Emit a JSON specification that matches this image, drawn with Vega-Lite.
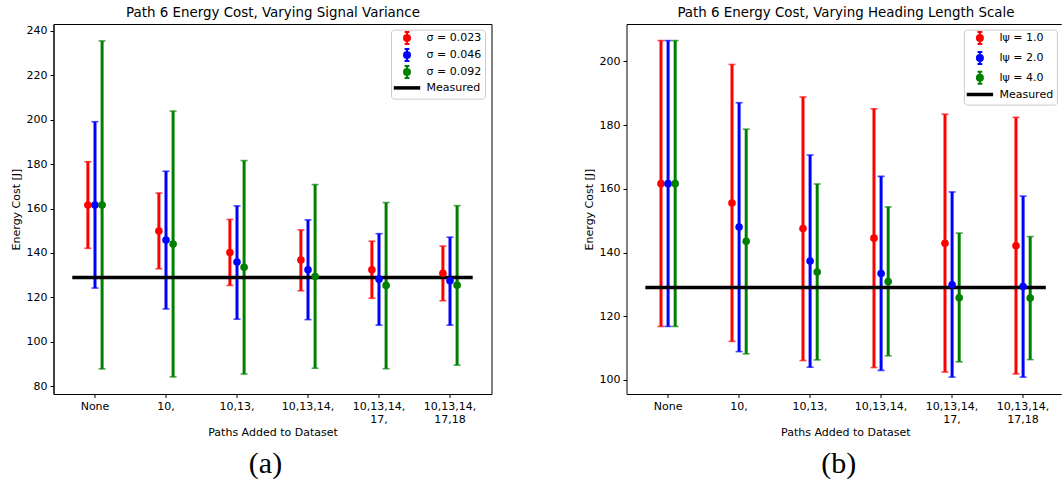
{
  "$schema": "https://vega.github.io/schema/vega-lite/v6.json",
  "background": "white",
  "padding": {"left": 9.5, "top": 4, "right": 0, "bottom": 0},
  "datasets": {
    "variance": [
      {"paths": "None", "series": "σ = 0.023", "mean": 161.6, "lo": 142.1, "hi": 181.1},
      {"paths": "None", "series": "σ = 0.046", "mean": 161.6, "lo": 124.2, "hi": 199.1},
      {"paths": "None", "series": "σ = 0.092", "mean": 161.6, "lo": 87.8, "hi": 235.5},
      {"paths": "10,", "series": "σ = 0.023", "mean": 149.9, "lo": 132.9, "hi": 167.0},
      {"paths": "10,", "series": "σ = 0.046", "mean": 145.8, "lo": 114.8, "hi": 176.8},
      {"paths": "10,", "series": "σ = 0.092", "mean": 144.0, "lo": 84.2, "hi": 203.9},
      {"paths": "10,13,", "series": "σ = 0.023", "mean": 140.2, "lo": 125.4, "hi": 155.1},
      {"paths": "10,13,", "series": "σ = 0.046", "mean": 135.9, "lo": 110.2, "hi": 161.2},
      {"paths": "10,13,", "series": "σ = 0.092", "mean": 133.6, "lo": 85.5, "hi": 181.6},
      {"paths": "10,13,14,", "series": "σ = 0.023", "mean": 136.8, "lo": 123.0, "hi": 150.4},
      {"paths": "10,13,14,", "series": "σ = 0.046", "mean": 132.4, "lo": 110.0, "hi": 154.9},
      {"paths": "10,13,14,", "series": "σ = 0.092", "mean": 129.4, "lo": 88.1, "hi": 170.8},
      {"paths": "10,13,14,\n17,", "series": "σ = 0.023", "mean": 132.4, "lo": 119.6, "hi": 145.3},
      {"paths": "10,13,14,\n17,", "series": "σ = 0.046", "mean": 128.2, "lo": 107.5, "hi": 148.7},
      {"paths": "10,13,14,\n17,", "series": "σ = 0.092", "mean": 125.4, "lo": 87.9, "hi": 162.7},
      {"paths": "10,13,14,\n17,18", "series": "σ = 0.023", "mean": 130.9, "lo": 118.5, "hi": 143.1},
      {"paths": "10,13,14,\n17,18", "series": "σ = 0.046", "mean": 127.5, "lo": 107.5, "hi": 147.1},
      {"paths": "10,13,14,\n17,18", "series": "σ = 0.092", "mean": 125.5, "lo": 89.5, "hi": 161.3}
    ],
    "heading": [
      {"paths": "None", "series": "lψ = 1.0", "mean": 161.6, "lo": 116.8, "hi": 206.5},
      {"paths": "None", "series": "lψ = 2.0", "mean": 161.6, "lo": 116.8, "hi": 206.5},
      {"paths": "None", "series": "lψ = 4.0", "mean": 161.6, "lo": 116.8, "hi": 206.5},
      {"paths": "10,", "series": "lψ = 1.0", "mean": 155.5, "lo": 112.1, "hi": 199.0},
      {"paths": "10,", "series": "lψ = 2.0", "mean": 148.0, "lo": 108.9, "hi": 187.0},
      {"paths": "10,", "series": "lψ = 4.0", "mean": 143.5, "lo": 108.2, "hi": 178.7},
      {"paths": "10,13,", "series": "lψ = 1.0", "mean": 147.5, "lo": 106.1, "hi": 188.8},
      {"paths": "10,13,", "series": "lψ = 2.0", "mean": 137.3, "lo": 104.0, "hi": 170.6},
      {"paths": "10,13,", "series": "lψ = 4.0", "mean": 133.9, "lo": 106.3, "hi": 161.5},
      {"paths": "10,13,14,", "series": "lψ = 1.0", "mean": 144.5, "lo": 103.9, "hi": 185.1},
      {"paths": "10,13,14,", "series": "lψ = 2.0", "mean": 133.4, "lo": 103.0, "hi": 163.9},
      {"paths": "10,13,14,", "series": "lψ = 4.0", "mean": 130.9, "lo": 107.6, "hi": 154.3},
      {"paths": "10,13,14,\n17,", "series": "lψ = 1.0", "mean": 142.9, "lo": 102.5, "hi": 183.4},
      {"paths": "10,13,14,\n17,", "series": "lψ = 2.0", "mean": 129.9, "lo": 100.9, "hi": 159.0},
      {"paths": "10,13,14,\n17,", "series": "lψ = 4.0", "mean": 125.8, "lo": 105.7, "hi": 146.1},
      {"paths": "10,13,14,\n17,18", "series": "lψ = 1.0", "mean": 142.1, "lo": 101.9, "hi": 182.4},
      {"paths": "10,13,14,\n17,18", "series": "lψ = 2.0", "mean": 129.3, "lo": 100.9, "hi": 157.7},
      {"paths": "10,13,14,\n17,18", "series": "lψ = 4.0", "mean": 125.7, "lo": 106.4, "hi": 145.0}
    ],
    "measured": [
      {"series": "Measured", "energy": 129.0, "from": "None", "to": "10,13,14,\n17,18"}
    ]
  },
  "hconcat": [
    {
      "width": 438,
      "height": 370,
      "title": {"text": "(a)", "dx": -7},
      "data": {"name": "variance"},
      "layer": [
        {
          "mark": {"type": "rule", "strokeWidth": 3},
          "encoding": {
            "x": {
              "field": "paths", "type": "ordinal",
              "scale": {"type": "band", "domain": ["None", "10,", "10,13,", "10,13,14,", "10,13,14,\n17,", "10,13,14,\n17,18"], "paddingInner": 0, "paddingOuter": 0.0845},
              "axis": {"title": "Paths Added to Dataset", "labelAngle": 0, "labelExpr": "split(datum.label, '\\n')", "labelLineHeight": 13, "titlePadding": 2}
            },
            "xOffset": {"field": "series", "type": "nominal", "scale": {"type": "point", "domain": ["σ = 0.023", "σ = 0.046", "σ = 0.092"], "range": [28.4, 42.6], "padding": 0}},
            "y": {
              "field": "lo", "type": "quantitative",
              "scale": {"domain": [76.5, 243.1], "nice": false, "zero": false},
              "axis": {"title": "Energy Cost [J]", "values": [80, 100, 120, 140, 160, 180, 200, 220, 240]}
            },
            "y2": {"field": "hi"},
            "color": {
              "field": "series", "type": "nominal",
              "scale": {"domain": ["σ = 0.023", "σ = 0.046", "σ = 0.092", "Measured"], "range": ["#ff0000", "#0000ff", "#008000", "#000000"]},
              "legend": {
                "orient": "none", "legendX": 337.5, "legendY": 5.6,
                "title": null,
                "symbolSize": 144, "symbolOffset": 7.5, "labelOffset": 14,
                "padding": 3, "rowPadding": -4.1,
                "strokeColor": "#cccccc", "fillColor": "rgba(255,255,255,0.8)", "cornerRadius": 3,
                "encode": {"symbols": {"update": {
                  "shape": {"signal": "datum.value === 'Measured' ? 'M-2.2,0H2.2' : 'M0,-1V1M-0.4,-1H0.4M-0.4,1H0.4M-0.5,0A0.5,0.5,0,1,1,0.5,0A0.5,0.5,0,1,1,-0.5,0Z'"},
                  "stroke": {"signal": "['#ff0000','#0000ff','#008000','#000000'][datum.index]"},
                  "fill": {"signal": "datum.value === 'Measured' ? 'transparent' : ['#ff0000','#0000ff','#008000'][datum.index]"},
                  "strokeWidth": {"signal": "datum.value === 'Measured' ? 3.5 : 2"},
                  "opacity": {"value": 1}
                }}}
              }
            }
          }
        },
        {
          "mark": {"type": "tick", "orient": "horizontal", "size": 7, "thickness": 1.6},
          "encoding": {
            "x": {"field": "paths", "type": "ordinal", "axis": null},
            "xOffset": {"field": "series", "type": "nominal"},
            "y": {"field": "lo", "type": "quantitative", "title": "Energy Cost [J]"},
            "color": {"field": "series", "type": "nominal"}
          }
        },
        {
          "mark": {"type": "tick", "orient": "horizontal", "size": 7, "thickness": 1.6},
          "encoding": {
            "x": {"field": "paths", "type": "ordinal", "axis": null},
            "xOffset": {"field": "series", "type": "nominal"},
            "y": {"field": "hi", "type": "quantitative", "title": "Energy Cost [J]"},
            "color": {"field": "series", "type": "nominal"}
          }
        },
        {
          "data": {"name": "measured"},
          "mark": {"type": "rule", "strokeWidth": 3.5},
          "encoding": {
            "x": {
              "field": "from", "type": "ordinal", "bandPosition": 0.18,
              "axis": {"orient": "top", "title": "Path 6 Energy Cost, Varying Signal Variance", "labels": false, "ticks": false, "titleFontSize": 13.4, "titlePadding": 5}
            },
            "x2": {"field": "to", "bandPosition": 0.82},
            "y": {"field": "energy", "type": "quantitative", "title": "Energy Cost [J]"},
            "color": {"field": "series", "type": "nominal"}
          }
        },
        {
          "mark": {"type": "point", "filled": true, "size": 58, "opacity": 1},
          "encoding": {
            "x": {"field": "paths", "type": "ordinal", "axis": null},
            "xOffset": {"field": "series", "type": "nominal"},
            "y": {"field": "mean", "type": "quantitative", "title": "Energy Cost [J]"},
            "color": {"field": "series", "type": "nominal"}
          }
        }
      ],
      "resolve": {"axis": {"x": "independent"}}
    },
    {
      "width": 434.7,
      "height": 370,
      "view": {"stroke": null},
      "title": {"text": "(b)", "dx": -5.2},
      "data": {"name": "heading"},
      "layer": [
        {
          "mark": {"type": "rule", "strokeWidth": 3},
          "encoding": {
            "x": {
              "field": "paths", "type": "ordinal",
              "scale": {"type": "band", "domain": ["None", "10,", "10,13,", "10,13,14,", "10,13,14,\n17,", "10,13,14,\n17,18"], "paddingInner": 0, "paddingOuter": 0.0613, "align": 0.7},
              "axis": {"title": "Paths Added to Dataset", "labelAngle": 0, "labelExpr": "split(datum.label, '\\n')", "labelLineHeight": 13, "titlePadding": 2, "titleX": 218.9}
            },
            "xOffset": {"field": "series", "type": "nominal", "scale": {"type": "point", "domain": ["lψ = 1.0", "lψ = 2.0", "lψ = 4.0"], "range": [28.4, 42.6], "padding": 0}},
            "y": {
              "field": "lo", "type": "quantitative",
              "scale": {"domain": [95.6, 211.7], "nice": false, "zero": false},
              "axis": {"title": "Energy Cost [J]", "values": [100, 120, 140, 160, 180, 200]}
            },
            "y2": {"field": "hi"},
            "color": {
              "field": "series", "type": "nominal",
              "scale": {"domain": ["lψ = 1.0", "lψ = 2.0", "lψ = 4.0", "Measured"], "range": ["#ff0000", "#0000ff", "#008000", "#000000"]},
              "legend": {
                "orient": "none", "legendX": 337.4, "legendY": 5.6,
                "title": null,
                "symbolSize": 144, "symbolOffset": 7.5, "labelOffset": 14,
                "padding": 3, "rowPadding": -1.2,
                "strokeColor": "#cccccc", "fillColor": "rgba(255,255,255,0.8)", "cornerRadius": 3,
                "encode": {"symbols": {"update": {
                  "shape": {"signal": "datum.value === 'Measured' ? 'M-2.2,0H2.2' : 'M0,-1V1M-0.4,-1H0.4M-0.4,1H0.4M-0.5,0A0.5,0.5,0,1,1,0.5,0A0.5,0.5,0,1,1,-0.5,0Z'"},
                  "stroke": {"signal": "['#ff0000','#0000ff','#008000','#000000'][datum.index]"},
                  "fill": {"signal": "datum.value === 'Measured' ? 'transparent' : ['#ff0000','#0000ff','#008000'][datum.index]"},
                  "strokeWidth": {"signal": "datum.value === 'Measured' ? 3.5 : 2"},
                  "opacity": {"value": 1}
                }}}
              }
            }
          }
        },
        {
          "mark": {"type": "tick", "orient": "horizontal", "size": 7, "thickness": 1.6},
          "encoding": {
            "x": {"field": "paths", "type": "ordinal", "axis": null},
            "xOffset": {"field": "series", "type": "nominal"},
            "y": {"field": "lo", "type": "quantitative", "title": "Energy Cost [J]"},
            "color": {"field": "series", "type": "nominal"}
          }
        },
        {
          "mark": {"type": "tick", "orient": "horizontal", "size": 7, "thickness": 1.6},
          "encoding": {
            "x": {"field": "paths", "type": "ordinal", "axis": null},
            "xOffset": {"field": "series", "type": "nominal"},
            "y": {"field": "hi", "type": "quantitative", "title": "Energy Cost [J]"},
            "color": {"field": "series", "type": "nominal"}
          }
        },
        {
          "data": {"name": "measured"},
          "mark": {"type": "rule", "strokeWidth": 3.5},
          "encoding": {
            "x": {
              "field": "from", "type": "ordinal", "bandPosition": 0.18,
              "axis": {"orient": "top", "title": "Path 6 Energy Cost, Varying Heading Length Scale", "labels": false, "ticks": false, "titleFontSize": 13.4, "titlePadding": 5, "titleX": 218.9}
            },
            "x2": {"field": "to", "bandPosition": 0.82},
            "y": {"field": "energy", "type": "quantitative", "title": "Energy Cost [J]"},
            "color": {"field": "series", "type": "nominal"}
          }
        },
        {
          "mark": {"type": "point", "filled": true, "size": 58, "opacity": 1},
          "encoding": {
            "x": {"field": "paths", "type": "ordinal", "axis": null},
            "xOffset": {"field": "series", "type": "nominal"},
            "y": {"field": "mean", "type": "quantitative", "title": "Energy Cost [J]"},
            "color": {"field": "series", "type": "nominal"}
          }
        }
      ],
      "resolve": {"axis": {"x": "independent"}}
    }
  ],
  "spacing": 90,
  "resolve": {"scale": {"color": "independent", "x": "independent", "y": "independent", "xOffset": "independent"}, "legend": {"color": "independent"}},
  "config": {
    "font": "DejaVu Sans",
    "view": {"stroke": "#000000", "strokeWidth": 1},
    "axis": {
      "labelFont": "DejaVu Sans", "labelFontSize": 11, "labelColor": "#000000",
      "titleFont": "DejaVu Sans", "titleFontSize": 11, "titleFontWeight": "normal", "titleColor": "#000000",
      "tickColor": "#000000", "tickSize": 3.5, "tickWidth": 1,
      "domainColor": "#000000", "domainWidth": 1,
      "labelPadding": 3, "titlePadding": 5, "grid": false
    },
    "legend": {"labelFont": "DejaVu Sans", "labelFontSize": 11, "labelColor": "#000000"},
    "title": {"orient": "bottom", "font": "Liberation Serif", "fontSize": 30, "fontWeight": "normal", "color": "#000000", "anchor": "middle", "frame": "group", "offset": 11}
  }
}
